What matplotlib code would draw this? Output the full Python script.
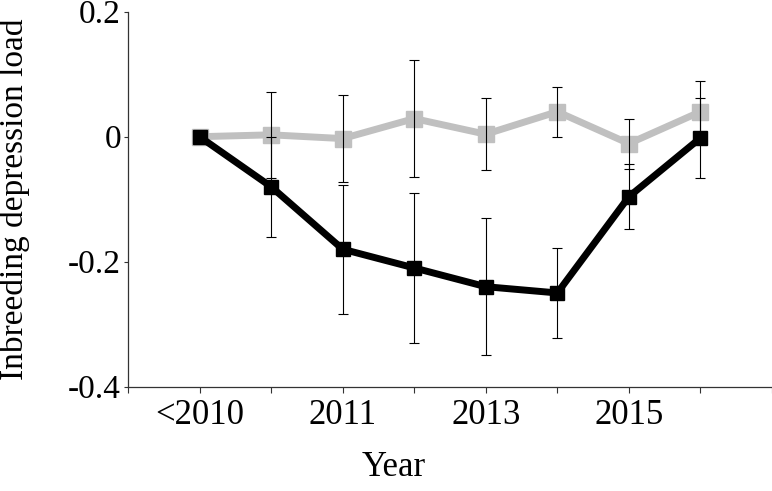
import numpy as np
import matplotlib
matplotlib.use("Agg")
import matplotlib.pyplot as plt

plt.rcParams["font.family"] = ["Liberation Serif", "DejaVu Serif"]

years = ["<2010", "2010", "2011", "2012", "2013", "2014", "2015", "2016"]
shown_labels = ["<2010", "2011", "2013", "2015"]

# black series
load_black = [0.0, -0.08, -0.18, -0.21, -0.24, -0.25, -0.096, -0.002]
err_black = [0.0, 0.08, 0.103, 0.12, 0.11, 0.072, 0.052, 0.064]
# grey series
load_grey = [0.0, 0.003, -0.003, 0.029, 0.004, 0.04, -0.011, 0.04]
err_grey = [0.0, 0.069, 0.07, 0.094, 0.058, 0.04, 0.04, 0.049]

x = np.arange(len(years))

fig = plt.figure(figsize=(7.72, 4.91), dpi=100)
ax = fig.add_axes([128 / 772, 1 - 386.7 / 491, 644 / 772, (386.7 - 11.7) / 491])

ax.plot(x, load_grey, color="#c0c0c0", lw=5, marker="s", ms=11, zorder=2)
ax.plot(x, load_black, color="black", lw=5, marker="s", ms=10.5, zorder=3)
ax.errorbar(x, load_grey, yerr=err_grey, fmt="none", ecolor="black",
            elinewidth=0.8, capsize=3.6, capthick=0.8, zorder=4)
ax.errorbar(x, load_black, yerr=err_black, fmt="none", ecolor="black",
            elinewidth=0.8, capsize=3.6, capthick=0.8, zorder=4)

ax.set_xlim(-1, 8)
ax.set_ylim(-0.4, 0.2)
ax.set_yticks([-0.4, -0.2, 0, 0.2])
ax.set_yticklabels(["-0.4", "-0.2", "0", "0.2"])
ax.set_xticks(np.arange(-1, 9))
ax.set_xticklabels(["", shown_labels[0], "", shown_labels[1], "",
                    shown_labels[2], "", shown_labels[3], "", ""])

for s in ["top", "right"]:
    ax.spines[s].set_visible(False)
for s in ["left", "bottom"]:
    ax.spines[s].set_linewidth(0.9)
    ax.spines[s].set_color("#333333")

ax.tick_params(axis="x", direction="out", length=4.5, width=0.8,
               color="#333333", labelsize=25, pad=4)
ax.tick_params(axis="y", direction="out", length=3, width=0.8,
               color="#333333", labelsize=24, pad=2)

ax.set_ylabel("Inbreeding depression load", fontsize=24)
ax.yaxis.set_label_coords(-0.152, 0.5)
ax.set_xlabel("Year", fontsize=25)
ax.xaxis.set_label_coords(0.413, -0.172)

fig.savefig("out.png", dpi=100)
